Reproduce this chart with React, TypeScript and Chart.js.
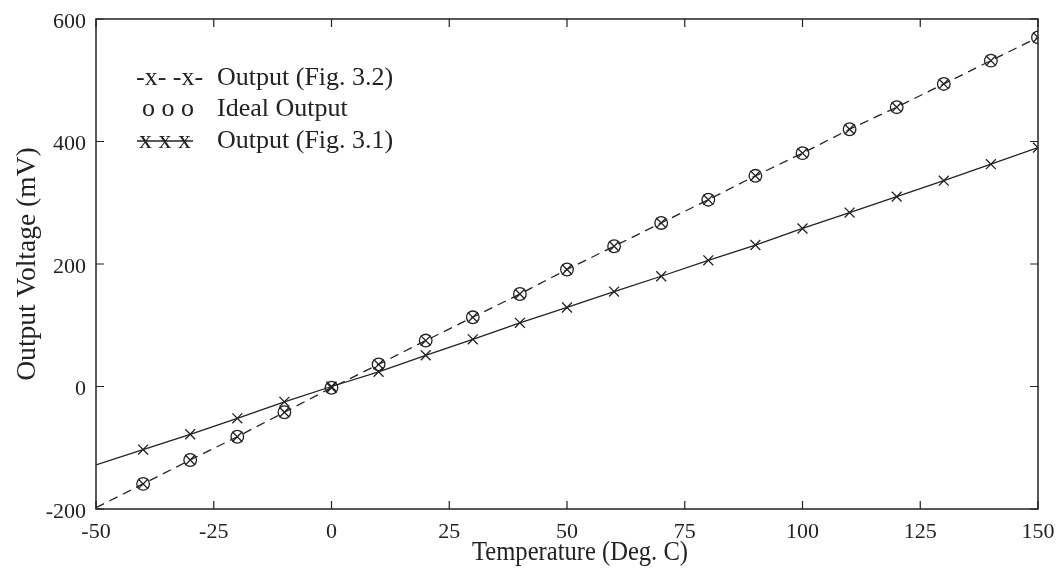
import React, { useEffect, useRef } from "react";
import { Chart, registerables } from "chart.js";

Chart.register(...registerables);

const temps = [-50, -40, -30, -20, -10, 0, 10, 20, 30, 40, 50, 60, 70, 80, 90, 100, 110, 120, 130, 140, 150];
const fig32Output = [-198, -159, -120, -82, -42, -2, 36, 75, 113, 151, 191, 229, 267, 305, 344, 381, 420, 456, 494, 532, 570];
const idealTemps = [-40, -30, -20, -10, 0, 10, 20, 30, 40, 50, 60, 70, 80, 90, 100, 110, 120, 130, 140, 150];
const idealOutput = [-159, -120, -82, -42, -2, 36, 75, 113, 151, 191, 229, 267, 305, 344, 381, 420, 456, 494, 532, 570];
const fig31Output = [-128, -103, -78, -52, -25, 0, 24, 51, 77, 104, 129, 155, 180, 206, 231, 258, 284, 310, 336, 363, 390];

const xTicks = [-50, -25, 0, 25, 50, 75, 100, 125, 150];
const yTicks = [-200, 0, 200, 400, 600];

const seriesLabels = ["Output (Fig. 3.2)", "Ideal Output", "Output (Fig. 3.1)"];
const legendSymbols = ["-x- -x-", "o o o", "x x x"];
const xTitle = "Temperature (Deg. C)";
const yTitle = "Output Voltage (mV)";

const INK = "#222";
const SERIF = "'Liberation Serif', 'Times New Roman', serif";

const frameAndLegend = {
  id: "frameAndLegend",
  afterDatasetsDraw(chart: any) {
    const { ctx, chartArea } = chart;
    const { left, right, top, bottom } = chartArea;
    const xs = chart.scales.x;
    const ys = chart.scales.y;
    ctx.save();
    ctx.strokeStyle = INK;
    ctx.lineWidth = 1.5;
    ctx.setLineDash([]);
    ctx.strokeRect(left, top, right - left, bottom - top);
    const tl = 8;
    ctx.lineWidth = 1.2;
    ctx.beginPath();
    xTicks.forEach((v) => {
      const px = xs.getPixelForValue(v);
      ctx.moveTo(px, bottom);
      ctx.lineTo(px, bottom - tl);
      ctx.moveTo(px, top);
      ctx.lineTo(px, top + tl);
    });
    yTicks.forEach((v) => {
      const py = ys.getPixelForValue(v);
      ctx.moveTo(left, py);
      ctx.lineTo(left + tl, py);
      ctx.moveTo(right, py);
      ctx.lineTo(right - tl, py);
    });
    ctx.stroke();

    // legend
    ctx.fillStyle = INK;
    ctx.font = `26px ${SERIF}`;
    ctx.textBaseline = "middle";
    ctx.textAlign = "left";
    const rows = [
      { sx: left + 40, y: top + 59 },
      { sx: left + 46, y: top + 90 },
      { sx: left + 43, y: top + 122 },
    ];
    const textX = left + 121;
    rows.forEach((r, i) => {
      ctx.fillText(legendSymbols[i], r.sx, r.y);
      ctx.fillText(seriesLabels[i], textX, r.y);
    });
    const w3 = ctx.measureText(legendSymbols[2]).width;
    ctx.beginPath();
    ctx.lineWidth = 1.3;
    ctx.moveTo(rows[2].sx - 2, rows[2].y);
    ctx.lineTo(rows[2].sx + w3 + 2, rows[2].y);
    ctx.stroke();

    // axis titles
    ctx.font = `27px ${SERIF}`;
    ctx.textAlign = "center";
    ctx.textBaseline = "alphabetic";
    ctx.save();
    ctx.translate(580, 560);
    ctx.scale(0.91, 1);
    ctx.fillText(xTitle, 0, 0);
    ctx.restore();
    ctx.save();
    ctx.translate(35, 264);
    ctx.rotate(-Math.PI / 2);
    ctx.scale(1.02, 1);
    ctx.fillText(yTitle, 0, 0);
    ctx.restore();
    ctx.restore();
  },
};

export default function App() {
  const ref = useRef<HTMLCanvasElement>(null);
  useEffect(() => {
    if (!ref.current) return;
    const chart = new Chart(ref.current, {
      type: "line",
      data: {
        datasets: [
          {
            label: seriesLabels[0],
            data: temps.map((t, i) => ({ x: t, y: fig32Output[i] })),
            borderColor: INK,
            borderWidth: 1.3,
            borderDash: [9, 6],
            pointStyle: "crossRot",
            pointRadius: temps.map((t) => (t === -50 ? 0 : 7)),
            pointBorderColor: INK,
            pointBorderWidth: 1.3,
            fill: false,
            tension: 0,
          },
          {
            label: seriesLabels[1],
            data: idealTemps.map((t, i) => ({ x: t, y: idealOutput[i] })),
            showLine: false,
            pointStyle: "circle",
            pointRadius: 6.3,
            pointBackgroundColor: "rgba(0,0,0,0)",
            pointBorderColor: INK,
            pointBorderWidth: 1.3,
          },
          {
            label: seriesLabels[2],
            data: temps.map((t, i) => ({ x: t, y: fig31Output[i] })),
            borderColor: INK,
            borderWidth: 1.3,
            pointStyle: "crossRot",
            pointRadius: temps.map((t) => (t === -50 ? 0 : 7)),
            pointBorderColor: INK,
            pointBorderWidth: 1.3,
            fill: false,
            tension: 0,
          },
        ],
      },
      options: {
        animation: false,
        responsive: true,
        maintainAspectRatio: false,
        layout: { padding: { top: 19, right: 21, left: 0, bottom: 0 } },
        plugins: { legend: { display: false }, tooltip: { enabled: false } },
        scales: {
          x: {
            type: "linear",
            min: -50,
            max: 150,
            afterBuildTicks: (s: any) => {
              s.ticks = xTicks.map((v) => ({ value: v }));
            },
            afterFit: (s: any) => {
              s.height = 62;
              s.paddingRight = 0;
              s.paddingLeft = 0;
            },
            grid: { display: false, drawTicks: false },
            border: { display: false },
            ticks: {
              color: INK,
              font: { family: SERIF, size: 22 },
              padding: 10,
              maxRotation: 0,
              autoSkip: false,
            },
            title: { display: false },
          },
          y: {
            type: "linear",
            min: -200,
            max: 600,
            afterBuildTicks: (s: any) => {
              s.ticks = yTicks.map((v) => ({ value: v }));
            },
            afterFit: (s: any) => {
              s.width = 96;
              s.paddingTop = 0;
              s.paddingBottom = 0;
            },
            grid: { display: false, drawTicks: false },
            border: { display: false },
            ticks: {
              color: INK,
              font: { family: SERIF, size: 22 },
              padding: 10,
              labelOffset: 3,
              autoSkip: false,
            },
            title: { display: false },
          },
        },
      },
      plugins: [frameAndLegend],
    });
    return () => chart.destroy();
  }, []);
  return (
    <div style={{ position: "fixed", left: 0, top: 0, width: 1059, height: 571, background: "#fff" }}>
      <canvas ref={ref} />
    </div>
  );
}
